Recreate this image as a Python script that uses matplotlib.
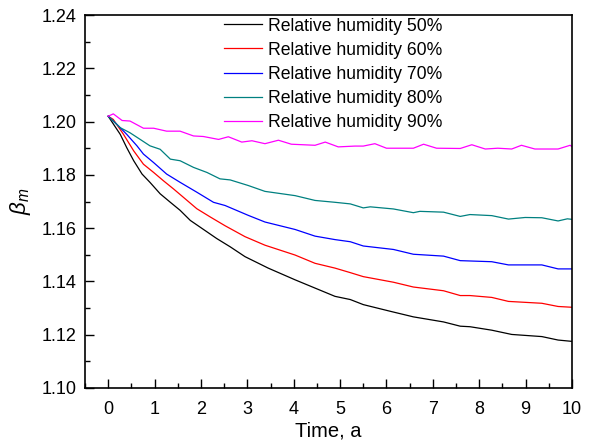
import matplotlib
matplotlib.use("Agg")
import matplotlib.pyplot as plt
from matplotlib.ticker import MultipleLocator

plt.rcParams['font.family'] = ['Liberation Sans', 'DejaVu Sans']
plt.rcParams['mathtext.fontset'] = 'custom'
plt.rcParams['mathtext.it'] = 'Liberation Sans:italic'
plt.rcParams['mathtext.rm'] = 'Liberation Sans'

labels = ["Relative humidity 50%", "Relative humidity 60%", "Relative humidity 70%",
          "Relative humidity 80%", "Relative humidity 90%"]
colors = ["black", "red", "blue", "#008080", "magenta"]

t50 = [0.0, 0.26, 0.40, 0.55, 0.73, 0.90, 1.12, 1.34, 1.55, 1.77, 1.98, 2.34, 2.63, 2.95, 3.45,
       4.03, 4.46, 4.89, 5.22, 5.50, 6.08, 6.58, 7.23, 7.59, 7.80, 8.27, 8.70, 9.35, 9.70, 10.0]
v50 = [1.202, 1.1952, 1.1902, 1.1853, 1.1803, 1.1772, 1.1729, 1.1697, 1.1667, 1.1629, 1.1604,
       1.1561, 1.1530, 1.1493, 1.1450, 1.1406, 1.1375, 1.1344, 1.1332, 1.1313, 1.1288, 1.1267,
       1.1248, 1.1232, 1.1230, 1.1217, 1.1201, 1.1193, 1.1180, 1.1175]

t60 = [0.0, 0.11, 0.33, 0.55, 0.76, 0.98, 1.19, 1.41, 1.62, 1.91, 2.20, 2.52, 2.95, 3.38, 4.03,
       4.46, 4.89, 5.22, 5.50, 6.15, 6.58, 7.23, 7.59, 7.80, 8.27, 8.63, 9.35, 9.70, 10.0]
v60 = [1.202, 1.2008, 1.1952, 1.1890, 1.1840, 1.1809, 1.1778, 1.1747, 1.1716, 1.1673, 1.1642,
       1.1609, 1.1568, 1.1536, 1.1499, 1.1468, 1.1450, 1.1433, 1.1418, 1.1397, 1.1379, 1.1365,
       1.1347, 1.1347, 1.1340, 1.1325, 1.1318, 1.1306, 1.1303]

t70 = [0.0, 0.19, 0.40, 0.62, 0.76, 0.98, 1.26, 1.55, 1.91, 2.27, 2.52, 3.02, 3.38, 4.03, 4.46,
       4.89, 5.22, 5.50, 6.15, 6.58, 7.23, 7.59, 8.27, 8.63, 9.35, 9.70, 10.0]
v70 = [1.202, 1.1989, 1.1952, 1.1909, 1.1878, 1.1846, 1.1803, 1.1772, 1.1735, 1.1697, 1.1685,
       1.1648, 1.1623, 1.1595, 1.1570, 1.1557, 1.1549, 1.1533, 1.1520, 1.1502, 1.1495, 1.1478,
       1.1474, 1.1462, 1.1462, 1.1447, 1.1447]

t80 = [0.0, 0.26, 0.47, 0.69, 0.90, 1.12, 1.34, 1.55, 1.84, 2.13, 2.41, 2.63, 3.02, 3.38, 4.03,
       4.46, 4.89, 5.22, 5.50, 5.65, 6.15, 6.58, 6.72, 7.23, 7.59, 7.80, 8.27, 8.63, 8.99, 9.35,
       9.70, 9.90, 10.0]
v80 = [1.202, 1.1977, 1.1958, 1.1933, 1.1909, 1.1896, 1.1859, 1.1853, 1.1828, 1.1809, 1.1785,
       1.1781, 1.1760, 1.1738, 1.1722, 1.1704, 1.1697, 1.1691, 1.1676, 1.1680, 1.1672, 1.1658,
       1.1663, 1.1660, 1.1644, 1.1651, 1.1647, 1.1634, 1.1640, 1.1639, 1.1627, 1.1635, 1.1633]

t90 = [0.0, 0.11, 0.30, 0.47, 0.76, 0.98, 1.26, 1.55, 1.84, 2.05, 2.38, 2.59, 2.88, 3.10, 3.38,
       3.67, 3.95, 4.46, 4.68, 4.96, 5.32, 5.50, 5.75, 6.00, 6.58, 6.80, 7.08, 7.59, 7.84, 8.13,
       8.40, 8.70, 8.91, 9.20, 9.70, 9.96, 10.0]
v90 = [1.202, 1.2029, 1.2004, 1.2002, 1.1975, 1.1975, 1.1964, 1.1964, 1.1946, 1.1944, 1.1933,
       1.1943, 1.1923, 1.1928, 1.1917, 1.1930, 1.1915, 1.1911, 1.1923, 1.1905, 1.1908, 1.1908,
       1.1917, 1.1900, 1.1900, 1.1915, 1.1900, 1.1899, 1.1913, 1.1897, 1.1900, 1.1897, 1.1911,
       1.1897, 1.1897, 1.1911, 1.1906]

series = [(t50, v50), (t60, v60), (t70, v70), (t80, v80), (t90, v90)]

fig = plt.figure(figsize=(6.09, 4.47), dpi=100)
ax = fig.add_axes([85/609, 1 - 388/447, 487/609, 373/447])

for (t, v), c, lab in zip(series, colors, labels):
    ax.plot(t, v, color=c, lw=0.9, label=lab)

ax.set_xlim(-0.5, 10)
ax.set_ylim(1.10, 1.24)
ax.xaxis.set_major_locator(MultipleLocator(1))
ax.xaxis.set_minor_locator(MultipleLocator(0.5))
ax.yaxis.set_major_locator(MultipleLocator(0.02))
ax.yaxis.set_minor_locator(MultipleLocator(0.01))
ax.yaxis.set_major_formatter(plt.FormatStrFormatter('%.2f'))
ax.tick_params(which='both', direction='in', top=False, right=False, labelsize=13, width=1)
ax.tick_params(which='major', length=6.5, pad=6)
ax.tick_params(axis='x', which='major', pad=9)
ax.tick_params(which='minor', length=3.5)
for s in ax.spines.values():
    s.set_linewidth(1.2)

ax.set_xlabel("Time, a", fontsize=14.5, labelpad=3)
ax.set_ylabel(r"$\beta_m$", fontsize=16, labelpad=6)

leg = ax.legend(loc='upper left', bbox_to_anchor=(0.27, 1.012), frameon=False, fontsize=12.7,
                handlelength=2.2, handletextpad=0.3, labelspacing=0.4, borderaxespad=0)

fig.savefig("out.png", dpi=100)
